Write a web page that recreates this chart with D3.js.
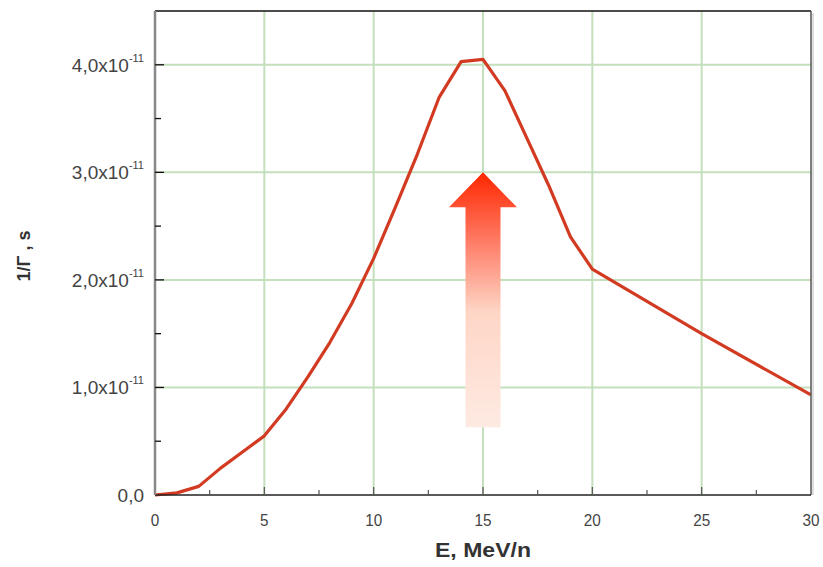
<!DOCTYPE html>
<html>
<head>
<meta charset="utf-8">
<script src="https://cdn.jsdelivr.net/npm/d3@7"></script>
<style>
  body { margin: 0; background: #fff; }
  text { font-family: "Liberation Sans", Arial, sans-serif; }
</style>
</head>
<body>
<svg id="chart" width="823" height="567"></svg>
<script>
// data
const energy = [0, 1, 2, 3, 4, 5, 6, 7, 8, 9, 10, 11, 12, 13, 14, 15, 16, 17, 18, 19, 20, 25, 30];
const invGamma = [0, 0.02e-11, 0.08e-11, 0.25e-11, 0.4e-11, 0.55e-11, 0.8e-11, 1.1e-11, 1.42e-11,
  1.78e-11, 2.2e-11, 2.68e-11, 3.17e-11, 3.7e-11, 4.03e-11, 4.05e-11, 3.76e-11, 3.32e-11,
  2.88e-11, 2.4e-11, 2.1e-11, 1.5e-11, 0.93e-11];
const xTicks = [0, 5, 10, 15, 20, 25, 30];
const yTicks = [0, 1e-11, 2e-11, 3e-11, 4e-11];
const yTickMant = ["0,0", "1,0x10", "2,0x10", "3,0x10", "4,0x10"];
// arrow annotation in data units: x, tip value, base value
const arrow = { x: 15, tip: 3.0e-11, base: 0.63e-11 };

const svg = d3.select("#chart");
const mLeft = 155, mRight = 811, mTop = 11, mBottom = 495;

const x = d3.scaleLinear().domain([0, 30]).range([mLeft, mRight]);
const y = d3.scaleLinear().domain([0, 4.5e-11]).range([mBottom, mTop]);

// grid
const grid = svg.append("g");
grid.selectAll(".gx")
  .data(xTicks.slice(1, -1))
  .enter().append("line")
  .attr("x1", d => x(d)).attr("x2", d => x(d))
  .attr("y1", mTop).attr("y2", mBottom)
  .attr("stroke", "#c4dfbb").attr("stroke-width", 2);
grid.selectAll(".gy")
  .data(yTicks.slice(1))
  .enter().append("line")
  .attr("x1", mLeft).attr("x2", mRight)
  .attr("y1", d => y(d)).attr("y2", d => y(d))
  .attr("stroke", "#c4dfbb").attr("stroke-width", 2);

// arrow with gradient
const defs = svg.append("defs");
const grad = defs.append("linearGradient")
  .attr("id", "arrowGrad")
  .attr("x1", 0).attr("y1", 0).attr("x2", 0).attr("y2", 1);
grad.append("stop").attr("offset", "0%").attr("stop-color", "#ff2600");
grad.append("stop").attr("offset", "30%").attr("stop-color", "#fe8570");
grad.append("stop").attr("offset", "55%").attr("stop-color", "#fed6c6");
grad.append("stop").attr("offset", "100%").attr("stop-color", "#feeae2");

const ax = x(arrow.x), ty = y(arrow.tip), by = y(arrow.base);
const headH = 35, headW = 34, shaftW = 17.5;
svg.append("path")
  .attr("d", `M${ax},${ty} L${ax + headW},${ty + headH} L${ax + shaftW},${ty + headH}
    L${ax + shaftW},${by} L${ax - shaftW},${by} L${ax - shaftW},${ty + headH}
    L${ax - headW},${ty + headH} Z`)
  .attr("fill", "url(#arrowGrad)");

// curve
const line = d3.line()
  .x((d, i) => x(energy[i]))
  .y(d => y(d));
svg.append("path")
  .datum(invGamma)
  .attr("fill", "none")
  .attr("stroke", "#d23a22")
  .attr("stroke-width", 3.2)
  .attr("stroke-linejoin", "round")
  .attr("d", line);

// frame
svg.append("line").attr("x1", mLeft).attr("x2", mRight).attr("y1", mTop).attr("y2", mTop)
  .attr("stroke", "#111").attr("stroke-width", 1.5);
svg.append("line").attr("x1", mRight).attr("x2", mRight).attr("y1", mTop).attr("y2", mBottom)
  .attr("stroke", "#555").attr("stroke-width", 1.5);
svg.append("line").attr("x1", mRight + 2).attr("x2", mRight + 2).attr("y1", mTop + 2).attr("y2", mBottom)
  .attr("stroke", "#ddd").attr("stroke-width", 2);
svg.append("line").attr("x1", mLeft).attr("x2", mRight).attr("y1", mBottom).attr("y2", mBottom)
  .attr("stroke", "#222").attr("stroke-width", 1.5);
svg.append("line").attr("x1", mLeft).attr("x2", mLeft).attr("y1", mTop).attr("y2", mBottom)
  .attr("stroke", "#888").attr("stroke-width", 2.5);

// x axis ticks (inward)
const xMinor = d3.range(2.5, 30, 5);
svg.selectAll(".xt").data(xTicks.slice(1, -1)).enter().append("line")
  .attr("x1", d => x(d)).attr("x2", d => x(d))
  .attr("y1", mBottom).attr("y2", mBottom - 8)
  .attr("stroke", "#555").attr("stroke-width", 1.2);
svg.selectAll(".xm").data(xMinor).enter().append("line")
  .attr("x1", d => x(d)).attr("x2", d => x(d))
  .attr("y1", mBottom).attr("y2", mBottom - 5)
  .attr("stroke", "#555").attr("stroke-width", 1.2);
svg.selectAll(".xl").data(xTicks).enter().append("text")
  .attr("x", d => x(d)).attr("y", 526)
  .attr("text-anchor", "middle")
  .attr("font-size", 17).attr("fill", "#444")
  .attr("transform", d => `translate(${x(d) * 0.1},0) scale(0.9,1)`)
  .text(d => d);

// y axis ticks (inward)
const yMinor = d3.range(0.5e-11, 4.5e-11, 1e-11);
svg.selectAll(".yt").data(yTicks.slice(1)).enter().append("line")
  .attr("x1", mLeft).attr("x2", mLeft + 9)
  .attr("y1", d => y(d)).attr("y2", d => y(d))
  .attr("stroke", "#111").attr("stroke-width", 1.3);
svg.selectAll(".ym").data(yMinor).enter().append("line")
  .attr("x1", mLeft).attr("x2", mLeft + 6)
  .attr("y1", d => y(d)).attr("y2", d => y(d))
  .attr("stroke", "#111").attr("stroke-width", 1.3);
const yl = svg.selectAll(".yl").data(yTicks).enter().append("text")
  .attr("x", 144).attr("y", d => y(d) + 7)
  .attr("text-anchor", "end")
  .attr("font-size", 19).attr("fill", "#444");
yl.append("tspan").text((d, i) => yTickMant[i]);
yl.filter(d => d > 0).append("tspan")
  .attr("font-size", 11).attr("dy", -10)
  .text("-11");

// axis titles
svg.append("text")
  .attr("x", x(15)).attr("y", 557)
  .attr("text-anchor", "middle")
  .attr("font-size", 20).attr("font-weight", "bold").attr("fill", "#333")
  .attr("textLength", 96).attr("lengthAdjust", "spacingAndGlyphs")
  .text("E, MeV/n");
svg.append("text")
  .attr("transform", "translate(30,256) rotate(-90)")
  .attr("text-anchor", "middle")
  .attr("font-size", 18).attr("font-weight", "bold").attr("fill", "#333")
  .text("1/Γ , s");
</script>
</body>
</html>
